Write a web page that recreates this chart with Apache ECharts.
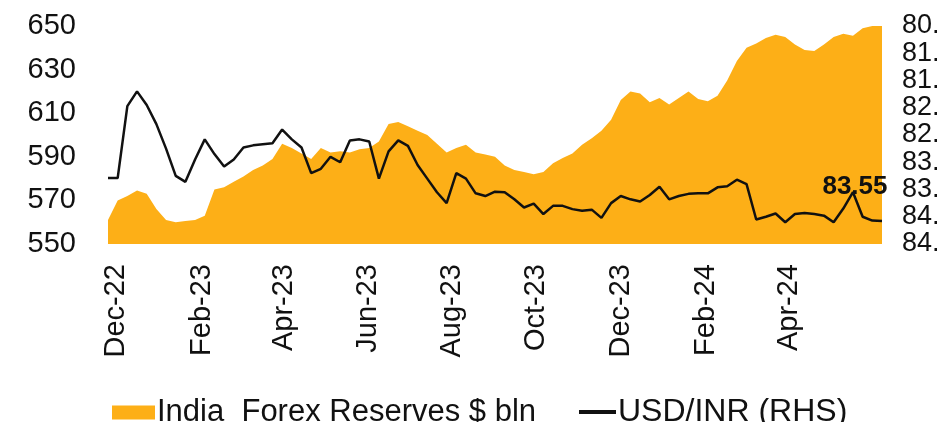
<!DOCTYPE html>
<html>
<head>
<meta charset="utf-8">
<script src="https://cdn.jsdelivr.net/npm/echarts@6/dist/echarts.min.js"></script>
<style>
  html, body { margin: 0; padding: 0; background: #fff; }
  #main { width: 938px; height: 422px; }
</style>
</head>
<body>
<div id="main"></div>
<script>
// weekly observations, first one on Fri 25-Nov-2022
var startDate = '2022-11-25';
var weekCount = 81;

// India forex reserves, $ bln (left axis)
var reserves = [
  561, 570, 572, 574.5, 573, 566, 561, 560, 560.5, 561,
  563, 575, 576, 578.5, 581, 584, 586, 589, 596, 594,
  591.5, 589, 594, 592, 592.5, 592, 593.5, 594, 597, 605,
  606, 604, 602, 600, 596, 592, 594, 595.5, 592, 591,
  590, 586, 584, 583, 582, 583, 587, 589.5, 591.5, 595.5,
  598.5, 602, 607, 616, 620, 619, 615, 617, 614, 617,
  620, 616.5, 615.5, 618, 625, 634, 640, 642, 644.5, 646,
  645, 641.5, 639, 638.5, 641.5, 645, 646.5, 645.5, 649, 650,
  650
];

// USD/INR (right axis, inverted)
var usdinr = [
  83.29, 83.29, 81.97, 81.70, 81.95, 82.30, 82.75, 83.25, 83.36, 82.95,
  82.58, 82.85, 83.08, 82.95, 82.73, 82.69, 82.67, 82.65, 82.40, 82.58,
  82.73, 83.20, 83.12, 82.90, 83.00, 82.60, 82.58, 82.62, 83.30, 82.80,
  82.60, 82.70, 83.05, 83.30, 83.55, 83.75, 83.20, 83.30, 83.57, 83.62,
  83.54, 83.55, 83.68, 83.83, 83.76, 83.95, 83.80, 83.80, 83.86, 83.89,
  83.87, 84.02, 83.75, 83.62, 83.68, 83.72, 83.60, 83.45, 83.68, 83.62,
  83.58, 83.57, 83.57, 83.46, 83.44, 83.32, 83.40, 84.05, 84.00, 83.94,
  84.10, 83.95, 83.93, 83.95, 83.98, 84.10, 83.85, 83.55, 84.00, 84.07,
  84.08
];
var labelIndex = 77;

// x-axis labels sit on the 1st of every other month
var tickDates = ['2022-12-01', '2023-02-01', '2023-04-01', '2023-06-01', '2023-08-01',
                 '2023-10-01', '2023-12-01', '2024-02-01', '2024-04-01'];
var monthNames = ['Jan','Feb','Mar','Apr','May','Jun','Jul','Aug','Sep','Oct','Nov','Dec'];

var dayMs = 86400000;
var t0 = Date.parse(startDate + 'T00:00:00Z');
var times = [];
for (var i = 0; i < weekCount; i++) times.push(t0 + i * 7 * dayMs);
var tickTimes = tickDates.map(function (s) { return Date.parse(s + 'T00:00:00Z'); });

function tickText(val) {
  var d = new Date(val);
  return monthNames[d.getUTCMonth()] + '-' + String(d.getUTCFullYear()).slice(2);
}

var resData = reserves.map(function (v, i) { return [times[i], v]; });
var fxData = usdinr.map(function (v, i) {
  if (i !== labelIndex) return [times[i], v];
  return {
    value: [times[i], v],
    label: {
      show: true, position: 'top', distance: 0, offset: [2, 8],
      formatter: v.toFixed(2),
      fontSize: 26, fontWeight: 'bold', color: '#111',
      fontFamily: 'Liberation Sans'
    }
  };
});

var chart = echarts.init(document.getElementById('main'));
var font = 'Liberation Sans';
chart.setOption({
  animation: false,
  color: ['#FDAF17', '#111111'],
  grid: { left: 108, right: 56, top: 26, bottom: 178, outerBoundsMode: 'none' },
  legend: [
    {
      data: [{ name: 'India  Forex Reserves $ bln', icon: 'rect' }],
      left: 107, top: 392,
      itemWidth: 43, itemHeight: 14, itemGap: 4,
      textStyle: { fontSize: 31, color: '#111', fontFamily: font, padding: [0, 0, 0, -3] }
    },
    {
      data: [{ name: 'USD/INR (RHS)', icon: 'rect' }],
      left: 574, top: 391,
      itemWidth: 37, itemHeight: 4,
      itemStyle: { color: '#111' },
      textStyle: { fontSize: 32, color: '#111', fontFamily: font, padding: [0, 0, 0, -3] }
    }
  ],
  xAxis: {
    type: 'value',
    min: times[0],
    max: times[times.length - 1],
    axisLine: { show: false },
    axisTick: { show: false },
    axisLabel: {
      rotate: 90, margin: 20,
      customValues: tickTimes,
      formatter: tickText,
      fontSize: 29, color: '#111', fontFamily: font
    },
    splitLine: { show: false }
  },
  yAxis: [
    {
      type: 'value', min: 550, max: 650, interval: 20,
      axisLine: { show: false }, axisTick: { show: false },
      splitLine: { show: false },
      axisLabel: { fontSize: 29, color: '#111', fontFamily: font, margin: 32 }
    },
    {
      type: 'value', min: 80.5, max: 84.5, interval: 0.5, inverse: true,
      position: 'right',
      axisLine: { show: false }, axisTick: { show: false },
      splitLine: { show: false },
      axisLabel: {
        fontSize: 27, color: '#111', fontFamily: font, margin: 20,
        formatter: function (v) { return v.toFixed(1); }
      }
    }
  ],
  series: [
    {
      name: 'India  Forex Reserves $ bln',
      type: 'line',
      data: resData,
      yAxisIndex: 0,
      symbol: 'none',
      lineStyle: { width: 0 },
      areaStyle: { color: '#FDAF17', opacity: 1, origin: 'start' }
    },
    {
      name: 'USD/INR (RHS)',
      type: 'line',
      data: fxData,
      yAxisIndex: 1,
      symbol: 'circle',
      symbolSize: 0,
      showSymbol: true,
      lineStyle: { width: 2.5, color: '#111' },
      z: 3
    }
  ]
});
</script>
</body>
</html>
